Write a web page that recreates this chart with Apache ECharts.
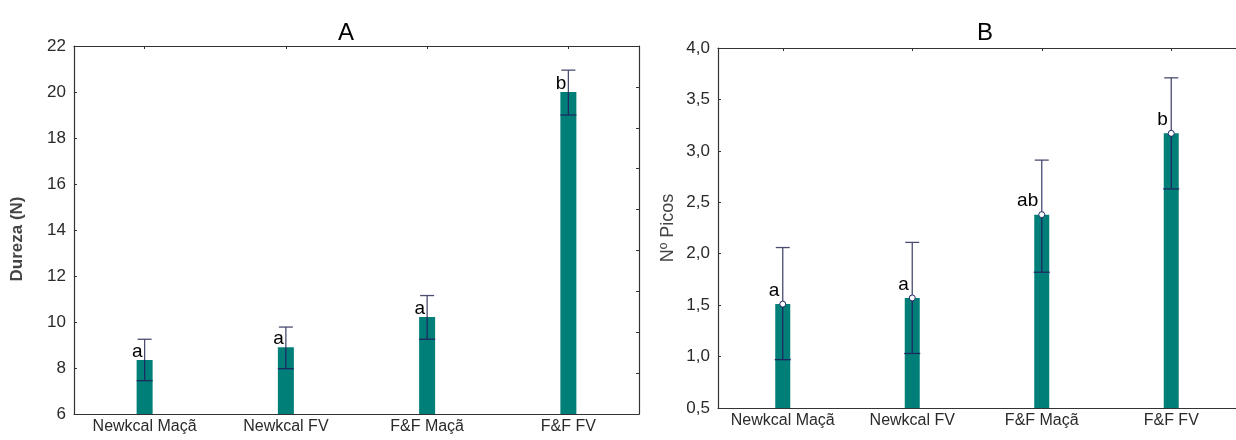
<!DOCTYPE html>
<html>
<head>
<meta charset="utf-8">
<script src="https://cdn.jsdelivr.net/npm/echarts@6/dist/echarts.min.js"></script>
<style>
html,body{margin:0;padding:0;background:#fff;}
#chart{width:1236px;height:440px;}
</style>
</head>
<body>
<div id="chart"></div>
<script>
const categories = ['Newkcal Maçã', 'Newkcal FV', 'F&F Maçã', 'F&F FV'];

// Panel A: Dureza (N)
const meanA = [8.35, 8.9, 10.22, 20.0];
const lowA  = [7.45, 7.97, 9.25, 19.0];
const highA = [9.25, 9.78, 11.15, 20.95];
const lettersA = ['a', 'a', 'a', 'b'];

// Panel B: Nº Picos
const meanB = [1.51, 1.57, 2.38, 3.17];
const lowB  = [0.97, 1.03, 1.82, 2.63];
const highB = [2.06, 2.11, 2.91, 3.71];
const lettersB = ['a', 'a', 'ab', 'b'];

const TEAL = '#007f78';
const NAVY = '#1d2a60';
const WHISK = '#4a4c70';
const AXIS = '#333333';
const FONT = 'Liberation Sans, Arial, sans-serif';

function errRender(withDot) {
  return function (params, api) {
    const i = api.value(0);
    const m = api.coord([i, api.value(1)]);
    const h = api.coord([i, api.value(2)]);
    const l = api.coord([i, api.value(3)]);
    const x = m[0];
    const children = [
      {type: 'line', shape: {x1: x, y1: l[1], x2: x, y2: m[1]}, style: {stroke: NAVY, lineWidth: 1.3}},
      {type: 'line', shape: {x1: x, y1: m[1], x2: x, y2: h[1]}, style: {stroke: WHISK, lineWidth: 1.3}},
      {type: 'line', shape: {x1: x - 7, y1: h[1], x2: x + 7, y2: h[1]}, style: {stroke: WHISK, lineWidth: 1.3}},
      {type: 'line', shape: {x1: x - 8, y1: l[1], x2: x + 8, y2: l[1]}, style: {stroke: NAVY, lineWidth: 1.3}}
    ];
    if (withDot) {
      children.push({type: 'circle', shape: {cx: x, cy: m[1], r: 3}, style: {fill: '#ffffff', stroke: NAVY, lineWidth: 1}});
    }
    return {type: 'group', children: children};
  };
}

const chart = echarts.init(document.getElementById('chart'), null, {renderer: 'canvas'});

function xAxisCfg(gi, pos, showLabel) {
  return {
    type: 'category', gridIndex: gi, data: categories, position: pos,
    boundaryGap: true,
    axisLine: {show: true, lineStyle: {color: AXIS, width: 1.2}},
    axisTick: {show: true, inside: true, alignWithLabel: true, length: 3, lineStyle: {color: AXIS}},
    axisLabel: {show: showLabel, interval: 0, hideOverlap: false, color: '#2a2a2a', fontFamily: FONT, fontSize: 16, margin: 5},
    splitLine: {show: false}
  };
}

const option = {
  animation: false,
  backgroundColor: '#ffffff',
  grid: [
    {left: 74, top: 46, width: 565, height: 368},
    {left: 718, top: 48, width: 530, height: 360}
  ],
  title: [
    {text: 'A', left: 341, top: 16, textAlign: 'center', textStyle: {fontFamily: FONT, fontSize: 24, fontWeight: 'normal', color: '#000'}},
    {text: 'B', left: 980, top: 16, textAlign: 'center', textStyle: {fontFamily: FONT, fontSize: 24, fontWeight: 'normal', color: '#000'}}
  ],
  graphic: [
    {type: 'text', x: 17, y: 239, rotation: Math.PI / 2,
     style: {text: 'Dureza (N)', fontFamily: FONT, fontSize: 17, fontWeight: 'bold', fill: '#444', align: 'center', verticalAlign: 'middle'}},
    {type: 'text', x: 668, y: 228, rotation: Math.PI / 2,
     style: {text: 'Nº Picos', fontFamily: FONT, fontSize: 18, fill: '#444', align: 'center', verticalAlign: 'middle'}}
  ],
  xAxis: [
    xAxisCfg(0, 'bottom', true),
    xAxisCfg(0, 'top', false),
    xAxisCfg(1, 'bottom', true),
    xAxisCfg(1, 'top', false)
  ],
  yAxis: [
    {type: 'value', gridIndex: 0, min: 6, max: 22, interval: 2, position: 'left',
     axisLine: {show: true, lineStyle: {color: AXIS, width: 1.2}},
     axisTick: {show: true, inside: true, length: 3, lineStyle: {color: AXIS}},
     axisLabel: {color: '#2a2a2a', fontFamily: FONT, fontSize: 17, margin: 8},
     splitLine: {show: false}},
    {type: 'value', gridIndex: 0, min: 0, max: 9, interval: 1, position: 'right',
     axisLine: {show: true, lineStyle: {color: AXIS, width: 1.2}},
     axisTick: {show: true, inside: true, length: 3, lineStyle: {color: AXIS}},
     axisLabel: {show: false}, splitLine: {show: false}},
    {type: 'value', gridIndex: 1, min: 0.5, max: 4, interval: 0.5, position: 'left',
     axisLine: {show: true, lineStyle: {color: AXIS, width: 1.2}},
     axisTick: {show: true, inside: true, length: 3, lineStyle: {color: AXIS}},
     axisLabel: {color: '#2a2a2a', fontFamily: FONT, fontSize: 17, margin: 8,
                 formatter: v => v.toFixed(1).replace('.', ',')},
     splitLine: {show: false}}
  ],
  series: [
    {type: 'bar', xAxisIndex: 0, yAxisIndex: 0, data: meanA, barWidth: 16,
     itemStyle: {color: TEAL},
     label: {show: true, position: [6, 1], align: 'right', verticalAlign: 'bottom',
             formatter: p => lettersA[p.dataIndex], color: '#000', fontFamily: FONT, fontSize: 19}},
    {type: 'custom', xAxisIndex: 0, yAxisIndex: 0, z: 5,
     data: categories.map((c, i) => [i, meanA[i], highA[i], lowA[i]]),
     renderItem: errRender(false)},
    {type: 'bar', xAxisIndex: 2, yAxisIndex: 2, data: meanB, barWidth: 15,
     itemStyle: {color: TEAL},
     label: {show: true, position: [4, -4], align: 'right', verticalAlign: 'bottom',
             formatter: p => lettersB[p.dataIndex], color: '#000', fontFamily: FONT, fontSize: 19}},
    {type: 'custom', xAxisIndex: 2, yAxisIndex: 2, z: 5,
     data: categories.map((c, i) => [i, meanB[i], highB[i], lowB[i]]),
     renderItem: errRender(true)}
  ]
};
chart.setOption(option);
</script>
</body>
</html>
